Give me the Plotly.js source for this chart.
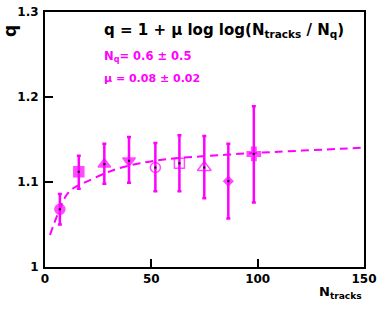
<!DOCTYPE html>
<html>
<head>
<meta charset="utf-8">
<script src="https://cdn.plot.ly/plotly-3.0.1.min.js"></script>
<style>html,body{margin:0;padding:0;background:#fff;}#chart{width:390px;height:310px;}</style>
</head>
<body>
<div id="chart"></div>
<script>
// Measured points
const nTracks = [7.0, 15.9, 27.9, 39.5, 51.9, 63.2, 74.9, 86.2, 98.2];
const qValues = [1.068, 1.112, 1.121, 1.125, 1.117, 1.122, 1.117, 1.101, 1.133];
const qErrUp = [0.018, 0.019, 0.024, 0.028, 0.029, 0.033, 0.037, 0.044, 0.056];
const qErrDown = [0.018, 0.020, 0.023, 0.026, 0.028, 0.033, 0.036, 0.044, 0.057];
const markerSymbols = ['circle', 'square', 'triangle-up', 'triangle-down', 'circle-open', 'square-open', 'triangle-up-open', 'diamond', 'cross'];
// Fit curve
const fitN = [2.35, 5.8, 10.2, 13.3, 19.6, 29.0, 34.5, 44.7, 58.0, 84.7, 107.4, 138.8, 149.7];
const fitQ = [1.0376, 1.061, 1.085, 1.0926, 1.1004, 1.111, 1.116, 1.122, 1.127, 1.132, 1.1353, 1.139, 1.1404];
// Axis ticks
const xTicks = [0, 50, 100, 150];
const yTicks = [1, 1.1, 1.2, 1.3];
const yTickText = ['1', '1.1', '1.2', '1.3'];
const fitText = 'q = 1 + \u03bc log log(N<sub>tracks</sub> / N<sub>q</sub>)';
const nqText = 'N<sub>q</sub>= 0.6 \u00b1 0.5';
const muText = '\u03bc = 0.08 \u00b1 0.02';

const MAG = '#ff00ff';
const FONT = 'DejaVu Sans, Liberation Sans, Arial, sans-serif';

const traces = [
  {
    x: fitN, y: fitQ, mode: 'lines', type: 'scatter',
    line: {color: MAG, width: 2, dash: '8px,5px', shape: 'spline'},
    hoverinfo: 'skip'
  },
  {
    x: nTracks, y: qValues, mode: 'markers', type: 'scatter',
    marker: {color: MAG, size: [10, 10, 11, 11, 10, 10, 12, 7, 11], symbol: markerSymbols,
             line: {color: MAG, width: 1.5}},
    error_y: {type: 'data', symmetric: false, array: qErrUp, arrayminus: qErrDown,
              color: MAG, thickness: 2.5, width: 2}
  },
  {
    x: nTracks, y: qValues, mode: 'markers', type: 'scatter',
    marker: {color: '#000', size: 2, symbol: 'square'},
    hoverinfo: 'skip'
  }
];

const layout = {
  width: 390, height: 310,
  margin: {l: 45, r: 26, t: 12, b: 43},
  paper_bgcolor: '#fff', plot_bgcolor: '#fff',
  showlegend: false,
  font: {family: FONT, color: '#000', weight: 'bold'},
  xaxis: {
    range: [0, 150], tickvals: xTicks, ticktext: xTicks.map(String),
    ticks: 'inside', ticklen: 8, tickwidth: 2, tickcolor: '#000',
    showline: true, linewidth: 2, linecolor: '#000', mirror: true,
    showgrid: false, zeroline: false,
    tickfont: {family: FONT, size: 12, color: '#000', weight: 'bold'}
  },
  yaxis: {
    range: [1, 1.3], tickvals: yTicks, ticktext: yTickText,
    ticks: 'inside', ticklen: 8, tickwidth: 2, tickcolor: '#000',
    showline: true, linewidth: 2, linecolor: '#000', mirror: true,
    showgrid: false, zeroline: false, ticklabelstandoff: 2,
    tickfont: {family: FONT, size: 12, color: '#000', weight: 'bold'}
  },
  annotations: [
    {text: fitText, xref: 'paper', yref: 'paper', x: 0.179, y: 0.929,
     xanchor: 'left', yanchor: 'middle', showarrow: false,
     font: {family: FONT, size: 15, color: '#000', weight: 'bold'}},
    {text: nqText, xref: 'paper', yref: 'paper', x: 0.179, y: 0.827,
     xanchor: 'left', yanchor: 'middle', showarrow: false,
     font: {family: FONT, size: 11.5, color: MAG, weight: 'bold'}},
    {text: muText, xref: 'paper', yref: 'paper', x: 0.179, y: 0.741,
     xanchor: 'left', yanchor: 'middle', showarrow: false,
     font: {family: FONT, size: 11, color: MAG, weight: 'bold'}},
    {text: 'q', xref: 'paper', yref: 'paper', x: -0.11, y: 0.925,
     xanchor: 'center', yanchor: 'middle', showarrow: false, textangle: -90,
     font: {family: FONT, size: 17, color: '#000', weight: 'bold'}},
    {text: 'N<sub>tracks</sub>', xref: 'paper', yref: 'paper', x: 0.853, y: -0.1,
     xanchor: 'left', yanchor: 'middle', showarrow: false,
     font: {family: FONT, size: 13, color: '#000', weight: 'bold'}}
  ]
};

Plotly.newPlot('chart', traces, layout, {staticPlot: true, displayModeBar: false});
</script>
</body>
</html>
